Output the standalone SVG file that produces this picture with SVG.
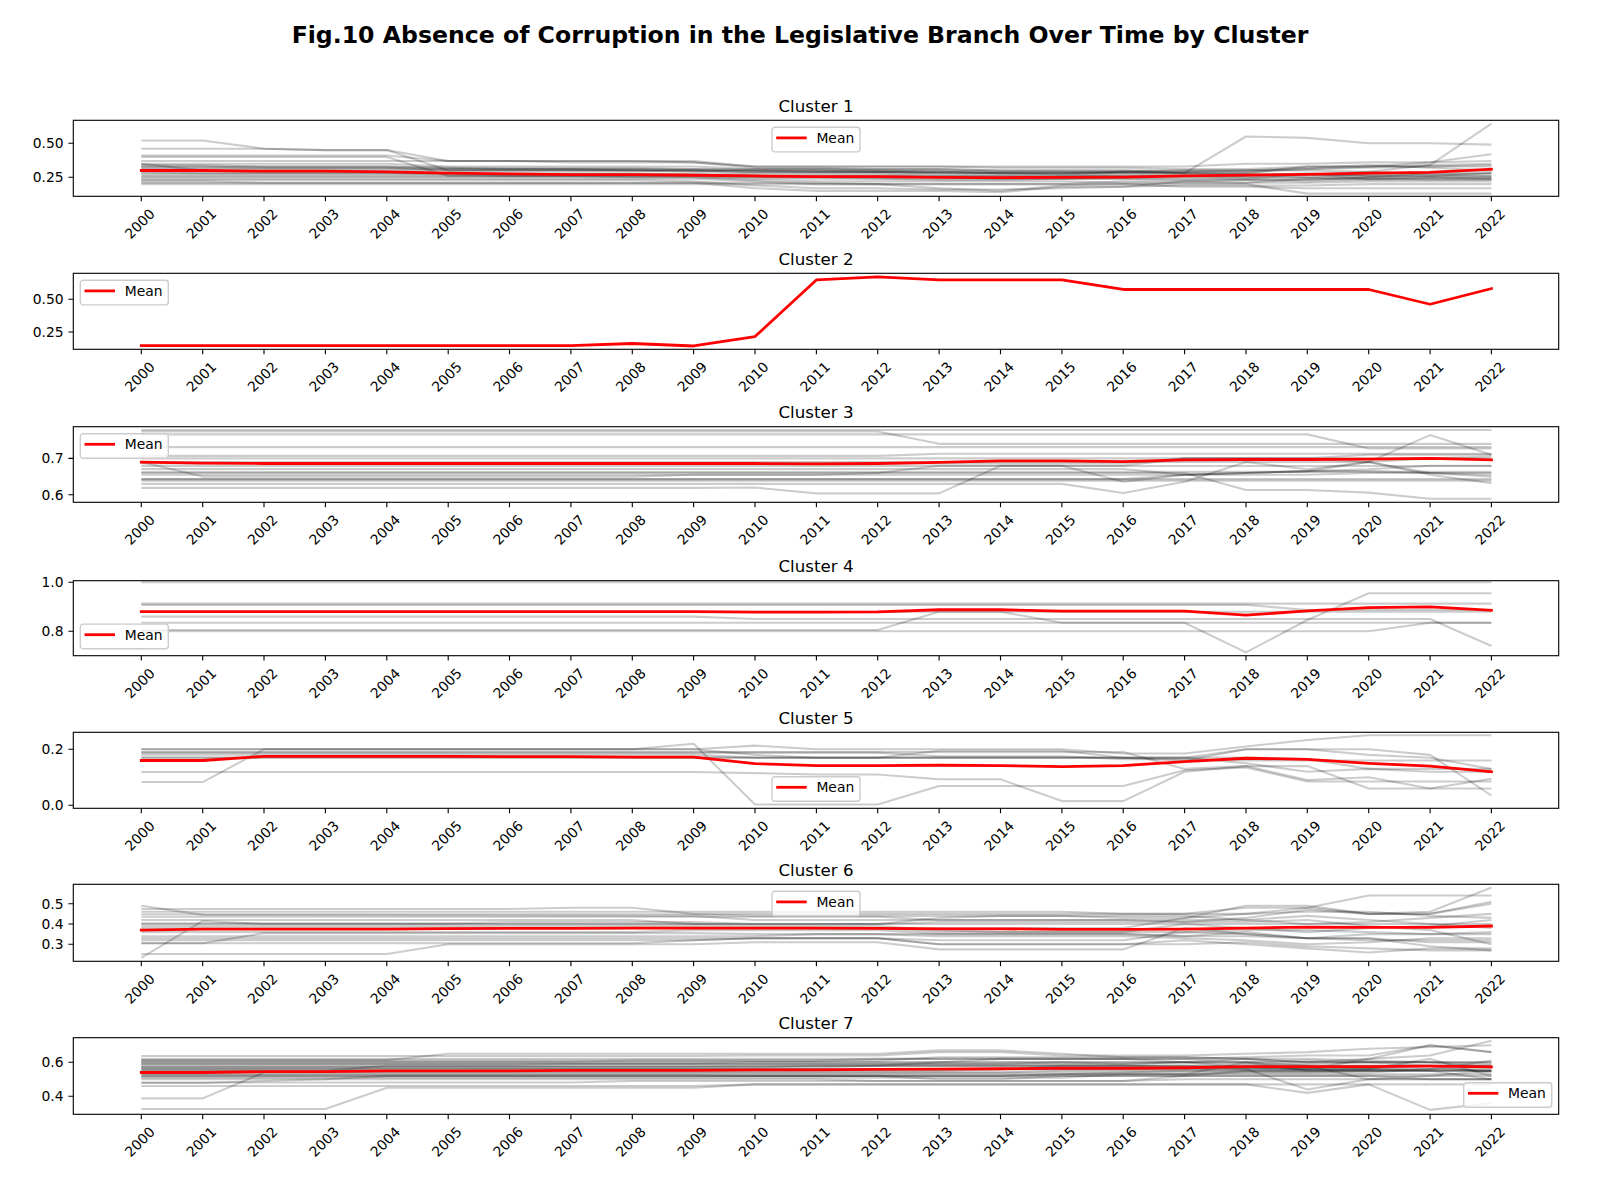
<svg xmlns="http://www.w3.org/2000/svg" xmlns:xlink="http://www.w3.org/1999/xlink" width="1600" height="1200" viewBox="0 0 1600 1200">
<style>
text{font-family:"DejaVu Sans","Liberation Sans",sans-serif;fill:#000}
.xl text{font-size:13.89px;text-anchor:middle;dominant-baseline:central}
.yl text{font-size:13.89px;text-anchor:end;dominant-baseline:central}
.ttl{font-size:16.67px;text-anchor:middle}
.sup{font-size:23.6px;font-weight:bold;text-anchor:middle}
.lg rect{fill:#fff;fill-opacity:.8;stroke:#ccc;stroke-width:1.39}
.lg line{stroke:#f00;stroke-width:2.78;stroke-linecap:square}
.lg text{font-size:13.89px}
.g polyline{fill:none;stroke:#000;stroke-opacity:.2;stroke-width:2.08;stroke-linejoin:round;vector-effect:non-scaling-stroke}
.g polyline.m{fill:none;stroke:#f00;stroke-opacity:1;stroke-width:2.78;stroke-linejoin:round;stroke-linecap:square;vector-effect:non-scaling-stroke}
.ax{fill:none;stroke:#000;stroke-width:1.11}
.tk{fill:none;stroke:#000;stroke-width:1.11}
</style>
<defs>
<path id="xt" class="tk" d="M141.3 0v4.9M202.7 0v4.9M264 0v4.9M325.4 0v4.9M386.8 0v4.9M448.2 0v4.9M509.5 0v4.9M570.9 0v4.9M632.3 0v4.9M693.6 0v4.9M755 0v4.9M816.4 0v4.9M877.7 0v4.9M939.1 0v4.9M1000.5 0v4.9M1061.9 0v4.9M1123.2 0v4.9M1184.6 0v4.9M1246 0v4.9M1307.3 0v4.9M1368.7 0v4.9M1430.1 0v4.9M1491.4 0v4.9"/>
</defs>
<rect width="1600" height="1200" fill="#fff"/>
<text class="sup" x="800" y="43.3">Fig.10 Absence of Corruption in the Legislative Branch Over Time by Cluster</text>

<!-- Cluster 1 -->
<g id="cluster1">
<text class="ttl" x="816" y="111.8">Cluster 1</text>
<g class="g" transform="matrix(61.37 0 0 -136 141.3 211.3)">
<polyline points="0,.52 1,.52 2,.46 3,.45 4,.45 5,.30 8,.30 9,.29 10,.28 12,.28 13,.27 15,.27 16,.26 18,.26 19,.27 21,.27 22,.28"/>
<polyline points="0,.46 2,.46 3,.45 4,.45 5,.37 9,.37 10,.33 13,.33 14,.32 16,.32 17,.31 18,.31 19,.33 20,.33 21,.34 22,.35"/>
<polyline points="0,.41 4,.41 5,.37 6,.37 7,.36 9,.36 10,.32 11,.32 12,.31 13,.31 14,.30 18,.30 19,.31 20,.32 21,.33 22,.34"/>
<polyline points="0,.40 4,.40 5,.26 9,.26 10,.25 13,.25 14,.24 19,.24 20,.25 22,.25"/>
<polyline points="0,.37 8,.37 9,.36 10,.33 17,.33 18,.35 19,.35 20,.36 21,.36 22,.37"/>
<polyline points="0,.35 4,.35 5,.33 9,.33 10,.31 13,.31 14,.30 16,.30 17,.28 18,.55 19,.54 20,.50 21,.50 22,.49"/>
<polyline points="0,.35 1,.30 9,.30 10,.29 12,.29 13,.28 15,.28 16,.29 17,.30 19,.30 20,.29 21,.34 22,.645"/>
<polyline points="0,.33 4,.33 5,.32 8,.32 9,.31 11,.31 12,.30 13,.30 14,.29 18,.29 19,.31 20,.33 21,.36 22,.42"/>
<polyline points="0,.32 4,.32 5,.30 12,.30 13,.29 15,.29 16,.28 18,.28 19,.33 22,.33"/>
<polyline points="0,.31 8,.31 9,.30 10,.29 12,.29 13,.28 14,.28 15,.27 16,.29 17,.28 18,.27 19,.27 20,.24 21,.25 22,.24"/>
<polyline points="0,.30 1,.30 2,.29 4,.29 5,.28 8,.28 9,.27 10,.26 14,.26 15,.25 17,.25 18,.24 19,.27 20,.29 21,.27 22,.26"/>
<polyline points="0,.29 1,.28 5,.28 6,.27 12,.27 13,.26 18,.26 19,.28 20,.26 21,.26 22,.28"/>
<polyline points="0,.28 4,.28 5,.27 9,.27 10,.26 12,.26 13,.25 14,.25 15,.26 16,.27 18,.27 19,.25 20,.24 22,.24"/>
<polyline points="0,.27 5,.27 6,.26 9,.26 10,.25 11,.25 12,.24 15,.24 16,.25 17,.26 18,.25 19,.25 20,.27 21,.29 22,.30"/>
<polyline points="0,.26 7,.26 8,.25 9,.25 10,.24 12,.24 13,.23 14,.23 15,.24 16,.24 17,.23 18,.23 19,.22 20,.24 21,.23 22,.23"/>
<polyline points="0,.25 9,.25 10,.23 11,.22 15,.22 16,.21 19,.21 20,.22 22,.22"/>
<polyline points="0,.24 9,.24 10,.22 11,.20 18,.20 19,.13 22,.13"/>
<polyline points="0,.23 8,.23 9,.22 10,.19 11,.17 12,.17 13,.16 14,.16 15,.17 16,.18 17,.19 19,.19 20,.20 22,.20"/>
<polyline points="0,.22 1,.22 2,.21 11,.21 12,.20 13,.17 14,.15 15,.19 16,.20 17,.18 18,.18 19,.17 22,.17"/>
<polyline points="0,.21 9,.21 10,.17 11,.15 13,.15 14,.14 15,.18 16,.18 17,.22 18,.23 19,.23 20,.25 21,.28 22,.28"/>
<polyline points="0,.20 15,.20 16,.22 17,.22 18,.21 19,.24 20,.23 21,.24 22,.24"/>
<polyline points="0,.33 1,.33 2,.32 4,.32 5,.31 9,.31 10,.30 11,.30 12,.29 13,.29 14,.28 18,.28 19,.27 20,.26 22,.26"/>
<polyline points="0,.34 1,.34 2,.33 4,.33 5,.32 6,.31 7,.31 8,.30 10,.30 11,.29 13,.29 14,.28 15,.28 16,.29 17,.29 18,.30 19,.32 20,.34 21,.32 22,.30"/>
<polyline class="m" points="0,.30 1,.30 2,.295 3,.295 4,.29 5,.28 6,.275 7,.27 8,.27 9,.265 10,.26 11,.255 12,.255 13,.25 14,.248 15,.25 16,.252 17,.26 18,.266 19,.272 20,.28 21,.287 22,.309"/>
</g>
<rect class="ax" x="73.3" y="120.3" width="1485.4" height="76"/>
<path class="tk" d="M68.4 177.3H73.3M68.4 143.3H73.3"/>
<g class="yl"><text x="63.6" y="177.3">0.25</text><text x="63.6" y="143.3">0.50</text></g>
<use href="#xt" xlink:href="#xt" y="196.3"/>
<g class="xl" transform="translate(0,196.3)">
<text x="139.8" y="27.5" transform="rotate(-45 139.8 27.5)">2000</text><text x="201.2" y="27.5" transform="rotate(-45 201.2 27.5)">2001</text><text x="262.5" y="27.5" transform="rotate(-45 262.5 27.5)">2002</text><text x="323.9" y="27.5" transform="rotate(-45 323.9 27.5)">2003</text><text x="385.3" y="27.5" transform="rotate(-45 385.3 27.5)">2004</text><text x="446.7" y="27.5" transform="rotate(-45 446.7 27.5)">2005</text><text x="508" y="27.5" transform="rotate(-45 508 27.5)">2006</text><text x="569.4" y="27.5" transform="rotate(-45 569.4 27.5)">2007</text><text x="630.8" y="27.5" transform="rotate(-45 630.8 27.5)">2008</text><text x="692.1" y="27.5" transform="rotate(-45 692.1 27.5)">2009</text><text x="753.5" y="27.5" transform="rotate(-45 753.5 27.5)">2010</text><text x="814.9" y="27.5" transform="rotate(-45 814.9 27.5)">2011</text><text x="876.2" y="27.5" transform="rotate(-45 876.2 27.5)">2012</text><text x="937.6" y="27.5" transform="rotate(-45 937.6 27.5)">2013</text><text x="999" y="27.5" transform="rotate(-45 999 27.5)">2014</text><text x="1060.4" y="27.5" transform="rotate(-45 1060.4 27.5)">2015</text><text x="1121.7" y="27.5" transform="rotate(-45 1121.7 27.5)">2016</text><text x="1183.1" y="27.5" transform="rotate(-45 1183.1 27.5)">2017</text><text x="1244.5" y="27.5" transform="rotate(-45 1244.5 27.5)">2018</text><text x="1305.8" y="27.5" transform="rotate(-45 1305.8 27.5)">2019</text><text x="1367.2" y="27.5" transform="rotate(-45 1367.2 27.5)">2020</text><text x="1428.6" y="27.5" transform="rotate(-45 1428.6 27.5)">2021</text><text x="1489.9" y="27.5" transform="rotate(-45 1489.9 27.5)">2022</text>
</g>
<g class="lg" transform="translate(772,127.3)"><rect width="88" height="24.6" rx="2.8"/><line x1="5.6" y1="10.6" x2="33.3" y2="10.6"/><text x="44.4" y="15.6">Mean</text></g>
</g>

<!-- Cluster 2 -->
<g id="cluster2">
<text class="ttl" x="816" y="264.8">Cluster 2</text>
<g class="g" transform="matrix(61.37 0 0 -130.8 141.3 364.7)">
<polyline class="m" points="0,.145 7,.145 8,.162 9,.143 10,.215 11,.648 12,.672 13,.648 15,.648 16,.575 20,.575 21,.462 22,.582"/>
</g>
<rect class="ax" x="73.3" y="273.3" width="1485.4" height="76"/>
<path class="tk" d="M68.4 332H73.3M68.4 299.3H73.3"/>
<g class="yl"><text x="63.6" y="332">0.25</text><text x="63.6" y="299.3">0.50</text></g>
<use href="#xt" xlink:href="#xt" y="349.3"/>
<g class="xl" transform="translate(0,349.3)">
<text x="139.8" y="27.5" transform="rotate(-45 139.8 27.5)">2000</text><text x="201.2" y="27.5" transform="rotate(-45 201.2 27.5)">2001</text><text x="262.5" y="27.5" transform="rotate(-45 262.5 27.5)">2002</text><text x="323.9" y="27.5" transform="rotate(-45 323.9 27.5)">2003</text><text x="385.3" y="27.5" transform="rotate(-45 385.3 27.5)">2004</text><text x="446.7" y="27.5" transform="rotate(-45 446.7 27.5)">2005</text><text x="508" y="27.5" transform="rotate(-45 508 27.5)">2006</text><text x="569.4" y="27.5" transform="rotate(-45 569.4 27.5)">2007</text><text x="630.8" y="27.5" transform="rotate(-45 630.8 27.5)">2008</text><text x="692.1" y="27.5" transform="rotate(-45 692.1 27.5)">2009</text><text x="753.5" y="27.5" transform="rotate(-45 753.5 27.5)">2010</text><text x="814.9" y="27.5" transform="rotate(-45 814.9 27.5)">2011</text><text x="876.2" y="27.5" transform="rotate(-45 876.2 27.5)">2012</text><text x="937.6" y="27.5" transform="rotate(-45 937.6 27.5)">2013</text><text x="999" y="27.5" transform="rotate(-45 999 27.5)">2014</text><text x="1060.4" y="27.5" transform="rotate(-45 1060.4 27.5)">2015</text><text x="1121.7" y="27.5" transform="rotate(-45 1121.7 27.5)">2016</text><text x="1183.1" y="27.5" transform="rotate(-45 1183.1 27.5)">2017</text><text x="1244.5" y="27.5" transform="rotate(-45 1244.5 27.5)">2018</text><text x="1305.8" y="27.5" transform="rotate(-45 1305.8 27.5)">2019</text><text x="1367.2" y="27.5" transform="rotate(-45 1367.2 27.5)">2020</text><text x="1428.6" y="27.5" transform="rotate(-45 1428.6 27.5)">2021</text><text x="1489.9" y="27.5" transform="rotate(-45 1489.9 27.5)">2022</text>
</g>
<g class="lg" transform="translate(80.3,280.3)"><rect width="88" height="24.6" rx="2.8"/><line x1="5.6" y1="10.6" x2="33.3" y2="10.6"/><text x="44.4" y="15.6">Mean</text></g>
</g>

<!-- Cluster 3 -->
<g id="cluster3">
<text class="ttl" x="816" y="418.2">Cluster 3</text>
<g class="g" transform="matrix(61.37 0 0 -364 141.3 713.2)">
<polyline points="0,.778 22,.778"/>
<polyline points="0,.774 12,.774 13,.74 22,.74"/>
<polyline points="0,.766 19,.766 20,.727 22,.727"/>
<polyline points="0,.731 22,.731"/>
<polyline points="0,.707 12,.707 13,.713 22,.713"/>
<polyline points="0,.69 1,.65 8,.65 9,.655 11,.655 12,.66 13,.68 16,.68 17,.70 22,.70"/>
<polyline points="0,.686 16,.686 17,.70 19,.70 20,.71 22,.71"/>
<polyline points="0,.679 22,.679"/>
<polyline points="0,.671 16,.671 17,.655 18,.66 19,.665 20,.67 21,.68 22,.68"/>
<polyline points="0,.663 22,.663"/>
<polyline points="0,.655 19,.655 20,.66 22,.66"/>
<polyline points="0,.643 22,.643"/>
<polyline points="0,.643 16,.643 17,.655 18,.66 19,.665 20,.69 21,.70 22,.705"/>
<polyline points="0,.639 22,.639"/>
<polyline points="0,.619 9,.619 10,.62 11,.604 13,.604 14,.68 15,.68 16,.636 17,.655 18,.66 19,.665 20,.665 21,.66 22,.65"/>
<polyline points="0,.63 15,.63 16,.605 17,.636 18,.69 19,.67 20,.69 21,.66 22,.655"/>
<polyline points="0,.66 17,.66 18,.613 19,.613 20,.606 21,.589 22,.589"/>
<polyline points="0,.69 20,.69 21,.764 22,.71"/>
<polyline points="0,.70 19,.70 20,.69 21,.655 22,.632"/>
<polyline class="m" points="0,.69 1,.687 2,.686 10,.686 11,.685 12,.686 13,.689 14,.693 15,.693 16,.691 17,.696 18,.697 19,.697 20,.698 21,.70 22,.696"/>
</g>
<rect class="ax" x="73.3" y="426.7" width="1485.4" height="75.6"/>
<path class="tk" d="M68.4 494.8H73.3M68.4 458.4H73.3"/>
<g class="yl"><text x="63.6" y="494.8">0.6</text><text x="63.6" y="458.4">0.7</text></g>
<use href="#xt" xlink:href="#xt" y="502.3"/>
<g class="xl" transform="translate(0,502.3)">
<text x="139.8" y="27.5" transform="rotate(-45 139.8 27.5)">2000</text><text x="201.2" y="27.5" transform="rotate(-45 201.2 27.5)">2001</text><text x="262.5" y="27.5" transform="rotate(-45 262.5 27.5)">2002</text><text x="323.9" y="27.5" transform="rotate(-45 323.9 27.5)">2003</text><text x="385.3" y="27.5" transform="rotate(-45 385.3 27.5)">2004</text><text x="446.7" y="27.5" transform="rotate(-45 446.7 27.5)">2005</text><text x="508" y="27.5" transform="rotate(-45 508 27.5)">2006</text><text x="569.4" y="27.5" transform="rotate(-45 569.4 27.5)">2007</text><text x="630.8" y="27.5" transform="rotate(-45 630.8 27.5)">2008</text><text x="692.1" y="27.5" transform="rotate(-45 692.1 27.5)">2009</text><text x="753.5" y="27.5" transform="rotate(-45 753.5 27.5)">2010</text><text x="814.9" y="27.5" transform="rotate(-45 814.9 27.5)">2011</text><text x="876.2" y="27.5" transform="rotate(-45 876.2 27.5)">2012</text><text x="937.6" y="27.5" transform="rotate(-45 937.6 27.5)">2013</text><text x="999" y="27.5" transform="rotate(-45 999 27.5)">2014</text><text x="1060.4" y="27.5" transform="rotate(-45 1060.4 27.5)">2015</text><text x="1121.7" y="27.5" transform="rotate(-45 1121.7 27.5)">2016</text><text x="1183.1" y="27.5" transform="rotate(-45 1183.1 27.5)">2017</text><text x="1244.5" y="27.5" transform="rotate(-45 1244.5 27.5)">2018</text><text x="1305.8" y="27.5" transform="rotate(-45 1305.8 27.5)">2019</text><text x="1367.2" y="27.5" transform="rotate(-45 1367.2 27.5)">2020</text><text x="1428.6" y="27.5" transform="rotate(-45 1428.6 27.5)">2021</text><text x="1489.9" y="27.5" transform="rotate(-45 1489.9 27.5)">2022</text>
</g>
<g class="lg" transform="translate(80.3,433.7)"><rect width="88" height="24.6" rx="2.8"/><line x1="5.6" y1="10.6" x2="33.3" y2="10.6"/><text x="44.4" y="15.6">Mean</text></g>
</g>

<!-- Cluster 4 -->
<g id="cluster4">
<text class="ttl" x="816" y="572.2">Cluster 4</text>
<g class="g" transform="matrix(61.37 0 0 -245 141.3 827.3)">
<polyline points="0,1 22,1"/>
<polyline points="0,.913 22,.913"/>
<polyline points="0,.908 18,.908 19,.887 22,.887"/>
<polyline points="0,.88 22,.88"/>
<polyline points="0,.86 9,.86 10,.85 21,.85 22,.74"/>
<polyline points="0,.835 22,.835"/>
<polyline points="0,.805 12,.805 13,.88 14,.88 15,.835 17,.835 18,.714 19,.846 20,.955 22,.955"/>
<polyline points="0,.80 20,.80 21,.835 22,.835"/>
<polyline class="m" points="0,.88 9,.88 10,.878 11,.878 12,.879 13,.888 14,.888 15,.882 17,.882 18,.866 19,.883 20,.897 21,.90 22,.886"/>
</g>
<rect class="ax" x="73.3" y="580.7" width="1485.4" height="75"/>
<path class="tk" d="M68.4 631.3H73.3M68.4 582.3H73.3"/>
<g class="yl"><text x="63.6" y="631.3">0.8</text><text x="63.6" y="582.3">1.0</text></g>
<use href="#xt" xlink:href="#xt" y="655.7"/>
<g class="xl" transform="translate(0,655.7)">
<text x="139.8" y="27.5" transform="rotate(-45 139.8 27.5)">2000</text><text x="201.2" y="27.5" transform="rotate(-45 201.2 27.5)">2001</text><text x="262.5" y="27.5" transform="rotate(-45 262.5 27.5)">2002</text><text x="323.9" y="27.5" transform="rotate(-45 323.9 27.5)">2003</text><text x="385.3" y="27.5" transform="rotate(-45 385.3 27.5)">2004</text><text x="446.7" y="27.5" transform="rotate(-45 446.7 27.5)">2005</text><text x="508" y="27.5" transform="rotate(-45 508 27.5)">2006</text><text x="569.4" y="27.5" transform="rotate(-45 569.4 27.5)">2007</text><text x="630.8" y="27.5" transform="rotate(-45 630.8 27.5)">2008</text><text x="692.1" y="27.5" transform="rotate(-45 692.1 27.5)">2009</text><text x="753.5" y="27.5" transform="rotate(-45 753.5 27.5)">2010</text><text x="814.9" y="27.5" transform="rotate(-45 814.9 27.5)">2011</text><text x="876.2" y="27.5" transform="rotate(-45 876.2 27.5)">2012</text><text x="937.6" y="27.5" transform="rotate(-45 937.6 27.5)">2013</text><text x="999" y="27.5" transform="rotate(-45 999 27.5)">2014</text><text x="1060.4" y="27.5" transform="rotate(-45 1060.4 27.5)">2015</text><text x="1121.7" y="27.5" transform="rotate(-45 1121.7 27.5)">2016</text><text x="1183.1" y="27.5" transform="rotate(-45 1183.1 27.5)">2017</text><text x="1244.5" y="27.5" transform="rotate(-45 1244.5 27.5)">2018</text><text x="1305.8" y="27.5" transform="rotate(-45 1305.8 27.5)">2019</text><text x="1367.2" y="27.5" transform="rotate(-45 1367.2 27.5)">2020</text><text x="1428.6" y="27.5" transform="rotate(-45 1428.6 27.5)">2021</text><text x="1489.9" y="27.5" transform="rotate(-45 1489.9 27.5)">2022</text>
</g>
<g class="lg" transform="translate(80.3,624.1)"><rect width="88" height="24.6" rx="2.8"/><line x1="5.6" y1="10.6" x2="33.3" y2="10.6"/><text x="44.4" y="15.6">Mean</text></g>
</g>

<!-- Cluster 5 -->
<g id="cluster5">
<text class="ttl" x="816" y="723.8">Cluster 5</text>
<g class="g" transform="matrix(61.37 0 0 -280 141.3 805.3)">
<polyline points="0,.2 8,.2 9,.22 10,.003 12,.003 13,.069 16,.069 17,.125 18,.135 19,.085 22,.085"/>
<polyline points="0,.2 9,.2 10,.213 11,.2 15,.2 16,.185 17,.185 18,.21 19,.233 20,.25 22,.25"/>
<polyline points="0,.188 12,.188 13,.175 15,.175 16,.165 17,.165 18,.16 22,.16"/>
<polyline points="0,.181 9,.181 10,.17 17,.17 18,.2 19,.2 20,.18 21,.17 22,.13"/>
<polyline points="0,.171 18,.171 19,.165 20,.13 22,.13"/>
<polyline points="0,.119 9,.119 10,.115 11,.11 12,.11 13,.093 14,.093 15,.015 16,.015 17,.12 18,.14 19,.09 20,.1 21,.06 22,.095"/>
<polyline points="0,.083 1,.083 2,.2 9,.2 10,.18 11,.17 12,.17 13,.195 15,.195 16,.17 17,.16 18,.2 20,.2 21,.18 22,.035"/>
<polyline points="0,.19 16,.19 17,.13 18,.14 19,.14 20,.06 22,.06"/>
<polyline points="0,.17 17,.17 18,.15 19,.12 20,.13 21,.12 22,.12"/>
<polyline class="m" points="0,.16 1,.16 2,.175 5,.175 6,.174 7,.174 8,.172 9,.172 10,.149 11,.142 12,.142 13,.143 14,.142 15,.138 16,.142 17,.156 18,.168 19,.164 20,.15 21,.14 22,.12"/>
</g>
<rect class="ax" x="73.3" y="732.3" width="1485.4" height="76"/>
<path class="tk" d="M68.4 805.3H73.3M68.4 749.3H73.3"/>
<g class="yl"><text x="63.6" y="805.3">0.0</text><text x="63.6" y="749.3">0.2</text></g>
<use href="#xt" xlink:href="#xt" y="808.3"/>
<g class="xl" transform="translate(0,808.3)">
<text x="139.8" y="27.5" transform="rotate(-45 139.8 27.5)">2000</text><text x="201.2" y="27.5" transform="rotate(-45 201.2 27.5)">2001</text><text x="262.5" y="27.5" transform="rotate(-45 262.5 27.5)">2002</text><text x="323.9" y="27.5" transform="rotate(-45 323.9 27.5)">2003</text><text x="385.3" y="27.5" transform="rotate(-45 385.3 27.5)">2004</text><text x="446.7" y="27.5" transform="rotate(-45 446.7 27.5)">2005</text><text x="508" y="27.5" transform="rotate(-45 508 27.5)">2006</text><text x="569.4" y="27.5" transform="rotate(-45 569.4 27.5)">2007</text><text x="630.8" y="27.5" transform="rotate(-45 630.8 27.5)">2008</text><text x="692.1" y="27.5" transform="rotate(-45 692.1 27.5)">2009</text><text x="753.5" y="27.5" transform="rotate(-45 753.5 27.5)">2010</text><text x="814.9" y="27.5" transform="rotate(-45 814.9 27.5)">2011</text><text x="876.2" y="27.5" transform="rotate(-45 876.2 27.5)">2012</text><text x="937.6" y="27.5" transform="rotate(-45 937.6 27.5)">2013</text><text x="999" y="27.5" transform="rotate(-45 999 27.5)">2014</text><text x="1060.4" y="27.5" transform="rotate(-45 1060.4 27.5)">2015</text><text x="1121.7" y="27.5" transform="rotate(-45 1121.7 27.5)">2016</text><text x="1183.1" y="27.5" transform="rotate(-45 1183.1 27.5)">2017</text><text x="1244.5" y="27.5" transform="rotate(-45 1244.5 27.5)">2018</text><text x="1305.8" y="27.5" transform="rotate(-45 1305.8 27.5)">2019</text><text x="1367.2" y="27.5" transform="rotate(-45 1367.2 27.5)">2020</text><text x="1428.6" y="27.5" transform="rotate(-45 1428.6 27.5)">2021</text><text x="1489.9" y="27.5" transform="rotate(-45 1489.9 27.5)">2022</text>
</g>
<g class="lg" transform="translate(772,776.7)"><rect width="88" height="24.6" rx="2.8"/><line x1="5.6" y1="10.6" x2="33.3" y2="10.6"/><text x="44.4" y="15.6">Mean</text></g>
</g>

<!-- Cluster 6 -->
<g id="cluster6">
<text class="ttl" x="816" y="875.8">Cluster 6</text>
<g class="g" transform="matrix(61.37 0 0 -203 141.3 1005.2)">
<polyline points="0,.49 1,.445 9,.44 10,.42 18,.42 19,.44 20,.42 21,.40 22,.38"/>
<polyline points="0,.233 1,.415 2,.40 9,.40 10,.39 12,.39 13,.37 14,.36 17,.36 18,.37 19,.37 20,.36 21,.35 22,.36"/>
<polyline points="0,.474 6,.474 7,.48 8,.48 9,.45 18,.45 19,.48 20,.54 22,.54"/>
<polyline points="0,.46 15,.46 16,.45 17,.45 18,.48 19,.48 20,.45 21,.46 22,.58"/>
<polyline points="0,.448 9,.448 10,.44 15,.44 16,.43 17,.43 18,.45 19,.46 20,.46 21,.44 22,.43"/>
<polyline points="0,.436 12,.436 13,.42 16,.42 17,.41 18,.43 19,.47 20,.45 21,.45 22,.51"/>
<polyline points="0,.42 8,.42 9,.40 12,.40 13,.43 14,.44 17,.44 18,.42 19,.40 20,.41 21,.43 22,.45"/>
<polyline points="0,.403 5,.403 6,.41 9,.41 10,.40 22,.40"/>
<polyline points="0,.39 9,.39 10,.38 12,.38 13,.36 16,.36 17,.40 18,.38 19,.36 20,.38 21,.39 22,.42"/>
<polyline points="0,.36 8,.36 9,.37 12,.37 13,.35 16,.35 17,.34 18,.34 19,.33 20,.35 22,.35"/>
<polyline points="0,.34 10,.34 11,.35 12,.35 13,.34 16,.34 17,.33 18,.32 19,.30 20,.31 21,.33 22,.33"/>
<polyline points="0,.33 12,.33 13,.32 16,.32 17,.36 18,.35 19,.33 20,.32 22,.32"/>
<polyline points="0,.32 9,.32 10,.33 12,.33 13,.30 17,.30 18,.31 19,.29 20,.28 21,.27 22,.27"/>
<polyline points="0,.305 1,.305 2,.355 9,.355 10,.35 16,.35 17,.34 18,.36 19,.33 20,.33 21,.31 22,.31"/>
<polyline points="0,.305 8,.305 9,.32 10,.33 12,.33 13,.30 16,.30 17,.32 18,.30 19,.28 20,.26 21,.28 22,.28"/>
<polyline points="0,.252 4,.252 5,.30 9,.30 10,.31 12,.31 13,.275 16,.275 17,.38 18,.35 19,.33 20,.33 21,.29 22,.27"/>
<polyline points="0,.38 16,.38 17,.43 18,.49 19,.49 20,.45 21,.45 22,.50"/>
<polyline points="0,.40 12,.40 13,.41 18,.41 19,.42 20,.39 21,.37 22,.30"/>
<polyline class="m" points="0,.37 1,.375 4,.375 5,.377 6,.378 7,.378 8,.38 11,.38 12,.378 13,.376 14,.376 15,.374 16,.373 17,.375 18,.38 19,.385 20,.383 21,.383 22,.39"/>
</g>
<rect class="ax" x="73.3" y="884.3" width="1485.4" height="77"/>
<path class="tk" d="M68.4 944.3H73.3M68.4 924H73.3M68.4 903.7H73.3"/>
<g class="yl"><text x="63.6" y="944.3">0.3</text><text x="63.6" y="924">0.4</text><text x="63.6" y="903.7">0.5</text></g>
<use href="#xt" xlink:href="#xt" y="961.3"/>
<g class="xl" transform="translate(0,961.3)">
<text x="139.8" y="27.5" transform="rotate(-45 139.8 27.5)">2000</text><text x="201.2" y="27.5" transform="rotate(-45 201.2 27.5)">2001</text><text x="262.5" y="27.5" transform="rotate(-45 262.5 27.5)">2002</text><text x="323.9" y="27.5" transform="rotate(-45 323.9 27.5)">2003</text><text x="385.3" y="27.5" transform="rotate(-45 385.3 27.5)">2004</text><text x="446.7" y="27.5" transform="rotate(-45 446.7 27.5)">2005</text><text x="508" y="27.5" transform="rotate(-45 508 27.5)">2006</text><text x="569.4" y="27.5" transform="rotate(-45 569.4 27.5)">2007</text><text x="630.8" y="27.5" transform="rotate(-45 630.8 27.5)">2008</text><text x="692.1" y="27.5" transform="rotate(-45 692.1 27.5)">2009</text><text x="753.5" y="27.5" transform="rotate(-45 753.5 27.5)">2010</text><text x="814.9" y="27.5" transform="rotate(-45 814.9 27.5)">2011</text><text x="876.2" y="27.5" transform="rotate(-45 876.2 27.5)">2012</text><text x="937.6" y="27.5" transform="rotate(-45 937.6 27.5)">2013</text><text x="999" y="27.5" transform="rotate(-45 999 27.5)">2014</text><text x="1060.4" y="27.5" transform="rotate(-45 1060.4 27.5)">2015</text><text x="1121.7" y="27.5" transform="rotate(-45 1121.7 27.5)">2016</text><text x="1183.1" y="27.5" transform="rotate(-45 1183.1 27.5)">2017</text><text x="1244.5" y="27.5" transform="rotate(-45 1244.5 27.5)">2018</text><text x="1305.8" y="27.5" transform="rotate(-45 1305.8 27.5)">2019</text><text x="1367.2" y="27.5" transform="rotate(-45 1367.2 27.5)">2020</text><text x="1428.6" y="27.5" transform="rotate(-45 1428.6 27.5)">2021</text><text x="1489.9" y="27.5" transform="rotate(-45 1489.9 27.5)">2022</text>
</g>
<g class="lg" transform="translate(772,891.3)"><rect width="88" height="24.6" rx="2.8"/><line x1="5.6" y1="10.6" x2="33.3" y2="10.6"/><text x="44.4" y="15.6">Mean</text></g>
</g>

<!-- Cluster 7 -->
<g id="cluster7">
<text class="ttl" x="816" y="1029.2">Cluster 7</text>
<g class="g" transform="matrix(61.37 0 0 -170 141.3 1164.3)">
<polyline points="0,.637 9,.637 10,.64 12,.64 13,.66 14,.66 15,.64 17,.64 18,.65 19,.66 20,.68 21,.69 22,.70"/>
<polyline points="0,.614 4,.614 5,.65 12,.65 13,.67 14,.67 15,.65 16,.63 17,.63 18,.62 19,.60 20,.62 21,.64 22,.727"/>
<polyline points="0,.605 7,.605 8,.61 11,.61 12,.62 17,.62 18,.63 19,.64 20,.64 21,.70 22,.66"/>
<polyline points="0,.594 9,.594 10,.60 22,.60"/>
<polyline points="0,.585 6,.585 7,.59 14,.59 15,.60 17,.60 18,.59 19,.59 20,.60 22,.60"/>
<polyline points="0,.575 9,.575 10,.58 16,.58 17,.57 18,.57 19,.56 21,.56 22,.55"/>
<polyline points="0,.57 10,.57 11,.58 12,.58 13,.60 14,.62 17,.62 18,.60 19,.55 20,.56 21,.62 22,.52"/>
<polyline points="0,.559 5,.559 6,.56 19,.56 20,.62 21,.70 22,.66"/>
<polyline points="0,.55 13,.55 14,.56 15,.58 22,.58"/>
<polyline points="0,.54 14,.54 15,.55 22,.55"/>
<polyline points="0,.53 15,.53 16,.54 17,.55 21,.55 22,.50"/>
<polyline points="0,.525 9,.525 10,.52 14,.52 15,.53 22,.53"/>
<polyline points="0,.516 9,.516 10,.52 12,.52 13,.50 14,.50 15,.52 20,.52 21,.50 22,.50"/>
<polyline points="0,.51 15,.51 16,.53 17,.53 18,.60 19,.58 20,.50 22,.50"/>
<polyline points="0,.50 11,.50 12,.49 16,.49 17,.52 18,.55 22,.55"/>
<polyline points="0,.481 7,.481 8,.49 16,.49 17,.50 22,.50"/>
<polyline points="0,.478 1,.478 2,.49 3,.50 4,.52 22,.52"/>
<polyline points="0,.461 9,.461 10,.47 18,.47 19,.42 20,.47 22,.47"/>
<polyline points="0,.388 1,.388 2,.54 20,.54 21,.56 22,.56"/>
<polyline points="0,.325 3,.325 4,.45 9,.45 10,.47 20,.47 21,.32 22,.36"/>
<polyline points="0,.61 12,.61 13,.63 17,.63 18,.62 19,.62 20,.61 21,.60 22,.57"/>
<polyline points="0,.60 15,.60 16,.59 17,.60 18,.62 19,.60 21,.60 22,.59"/>
<polyline points="0,.55 3,.55 4,.58 17,.58 18,.56 19,.44 20,.50 21,.52 22,.55"/>
<polyline points="0,.59 16,.59 17,.60 18,.60 19,.61 20,.60 21,.58 22,.54"/>
<polyline points="0,.57 11,.57 12,.58 22,.58"/>
<polyline points="0,.52 14,.52 15,.53 17,.53 18,.54 19,.54 20,.55 21,.56 22,.61"/>
<polyline points="0,.56 20,.56 21,.55 22,.55"/>
<polyline points="0,.62 16,.62 17,.60 18,.57 19,.56 20,.56 21,.58 22,.58"/>
<polyline class="m" points="0,.54 1,.54 2,.545 3,.545 4,.55 6,.55 7,.552 8,.553 9,.553 10,.555 11,.556 12,.558 13,.56 14,.562 15,.565 16,.565 17,.568 18,.575 20,.575 21,.577 22,.573"/>
</g>
<rect class="ax" x="73.3" y="1037.7" width="1485.4" height="76.6"/>
<path class="tk" d="M68.4 1096.3H73.3M68.4 1062.3H73.3"/>
<g class="yl"><text x="63.6" y="1096.3">0.4</text><text x="63.6" y="1062.3">0.6</text></g>
<use href="#xt" xlink:href="#xt" y="1114.3"/>
<g class="xl" transform="translate(0,1114.3)">
<text x="139.8" y="27.5" transform="rotate(-45 139.8 27.5)">2000</text><text x="201.2" y="27.5" transform="rotate(-45 201.2 27.5)">2001</text><text x="262.5" y="27.5" transform="rotate(-45 262.5 27.5)">2002</text><text x="323.9" y="27.5" transform="rotate(-45 323.9 27.5)">2003</text><text x="385.3" y="27.5" transform="rotate(-45 385.3 27.5)">2004</text><text x="446.7" y="27.5" transform="rotate(-45 446.7 27.5)">2005</text><text x="508" y="27.5" transform="rotate(-45 508 27.5)">2006</text><text x="569.4" y="27.5" transform="rotate(-45 569.4 27.5)">2007</text><text x="630.8" y="27.5" transform="rotate(-45 630.8 27.5)">2008</text><text x="692.1" y="27.5" transform="rotate(-45 692.1 27.5)">2009</text><text x="753.5" y="27.5" transform="rotate(-45 753.5 27.5)">2010</text><text x="814.9" y="27.5" transform="rotate(-45 814.9 27.5)">2011</text><text x="876.2" y="27.5" transform="rotate(-45 876.2 27.5)">2012</text><text x="937.6" y="27.5" transform="rotate(-45 937.6 27.5)">2013</text><text x="999" y="27.5" transform="rotate(-45 999 27.5)">2014</text><text x="1060.4" y="27.5" transform="rotate(-45 1060.4 27.5)">2015</text><text x="1121.7" y="27.5" transform="rotate(-45 1121.7 27.5)">2016</text><text x="1183.1" y="27.5" transform="rotate(-45 1183.1 27.5)">2017</text><text x="1244.5" y="27.5" transform="rotate(-45 1244.5 27.5)">2018</text><text x="1305.8" y="27.5" transform="rotate(-45 1305.8 27.5)">2019</text><text x="1367.2" y="27.5" transform="rotate(-45 1367.2 27.5)">2020</text><text x="1428.6" y="27.5" transform="rotate(-45 1428.6 27.5)">2021</text><text x="1489.9" y="27.5" transform="rotate(-45 1489.9 27.5)">2022</text>
</g>
<g class="lg" transform="translate(1463.7,1082.7)"><rect width="88" height="24.6" rx="2.8"/><line x1="5.6" y1="10.6" x2="33.3" y2="10.6"/><text x="44.4" y="15.6">Mean</text></g>
</g>

<g id="connectors"></g>
</svg>
